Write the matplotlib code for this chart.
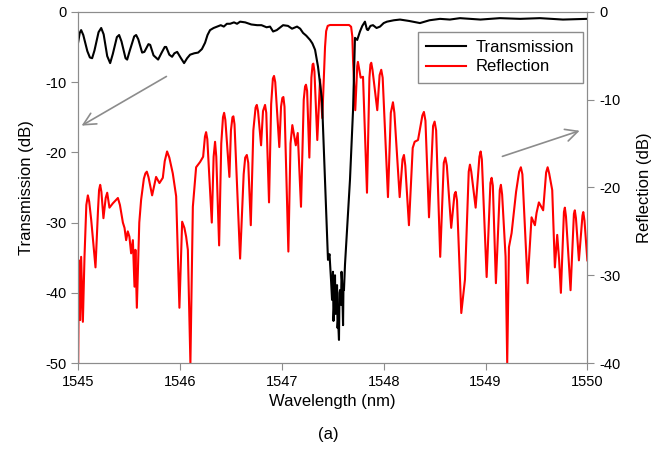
import matplotlib
matplotlib.use("Agg")
import matplotlib.pyplot as plt

plt.rcParams["font.family"] = ["Liberation Sans", "DejaVu Sans"]
plt.rcParams["axes.unicode_minus"] = False

# transmission spectrum (left axis, dB)
wl_trans = [1545.000, 1545.015, 1545.029, 1545.050, 1545.090, 1545.115, 1545.137, 1545.160,
            1545.200, 1545.226, 1545.250, 1545.285, 1545.314, 1545.340, 1545.380, 1545.402,
            1545.425, 1545.465, 1545.481, 1545.505, 1545.550, 1545.569, 1545.590, 1545.628,
            1545.650, 1545.690, 1545.707, 1545.740, 1545.785, 1545.820, 1545.850, 1545.864,
            1545.895, 1545.922, 1545.945, 1545.972, 1546.005, 1546.040, 1546.070, 1546.099,
            1546.140, 1546.178, 1546.215, 1546.246, 1546.270, 1546.295, 1546.330, 1546.364,
            1546.400, 1546.430, 1546.460, 1546.492, 1546.530, 1546.560, 1546.590, 1546.640,
            1546.700, 1546.757, 1546.800, 1546.850, 1546.884, 1546.914, 1546.950, 1547.012,
            1547.060, 1547.100, 1547.149, 1547.180, 1547.208, 1547.240, 1547.277, 1547.300,
            1547.326, 1547.355, 1547.394, 1547.424, 1547.453, 1547.468, 1547.483, 1547.493,
            1547.502, 1547.507, 1547.512, 1547.522, 1547.527, 1547.532, 1547.542, 1547.547,
            1547.552, 1547.561, 1547.566, 1547.571, 1547.581, 1547.586, 1547.591, 1547.601,
            1547.605, 1547.610, 1547.620, 1547.640, 1547.669, 1547.699, 1547.718, 1547.740,
            1547.767, 1547.790, 1547.816, 1547.835, 1547.846, 1547.870, 1547.895, 1547.930,
            1547.964, 1548.000, 1548.032, 1548.100, 1548.160, 1548.250, 1548.356, 1548.450,
            1548.553, 1548.650, 1548.749, 1548.950, 1549.141, 1549.340, 1549.534, 1549.760,
            1549.995]
trans = [-4.3, -3.0, -2.6, -3.3, -5.6, -6.5, -6.6, -5.5,
         -2.9, -2.3, -3.2, -6.3, -7.3, -6.0, -3.6, -3.3,
         -4.2, -6.6, -6.8, -5.6, -3.5, -3.3, -3.9, -5.8,
         -5.7, -4.6, -4.7, -6.2, -6.8, -5.8, -5.0, -5.0,
         -6.1, -6.4, -5.9, -5.7, -6.5, -7.3, -6.6, -6.1,
         -5.9, -5.8, -5.3, -4.4, -3.3, -2.6, -2.3, -2.1,
         -1.9, -2.1, -1.7, -1.7, -1.5, -1.7, -1.4, -1.5,
         -1.8, -1.9, -1.9, -2.2, -2.1, -2.8, -2.6, -1.9,
         -2.0, -2.4, -2.1, -2.4, -3.0, -3.4, -4.0, -4.5,
         -5.4, -7.8, -12.5, -23.9, -35.3, -34.5, -38.2, -41.0,
         -37.0, -44.0, -42.4, -37.5, -43.0, -41.0, -38.9, -45.0,
         -43.9, -46.7, -40.0, -39.6, -41.7, -37.0, -38.2, -44.6,
         -39.0, -39.6, -36.0, -31.1, -23.9, -14.0, -3.7, -4.0,
         -2.8, -2.0, -1.4, -2.5, -2.6, -2.0, -1.9, -2.3,
         -2.1, -1.6, -1.4, -1.2, -1.1, -1.3, -1.6, -1.2,
         -1.0, -1.1, -0.9, -1.1, -0.9, -1.0, -0.9, -1.1,
         -1.0]

# reflection spectrum (right axis, dB)
wl_refl = [1545.000, 1545.007, 1545.020, 1545.029, 1545.046, 1545.062, 1545.080, 1545.095,
           1545.108, 1545.128, 1545.170, 1545.195, 1545.205, 1545.216, 1545.228, 1545.248,
           1545.270, 1545.285, 1545.307, 1545.341, 1545.390, 1545.410, 1545.439, 1545.455,
           1545.471, 1545.487, 1545.503, 1545.520, 1545.537, 1545.553, 1545.562, 1545.576,
           1545.600, 1545.618, 1545.645, 1545.660, 1545.674, 1545.690, 1545.726, 1545.765,
           1545.798, 1545.831, 1545.850, 1545.873, 1545.895, 1545.929, 1545.962, 1545.994,
           1546.021, 1546.043, 1546.060, 1546.077, 1546.102, 1546.126, 1546.158, 1546.197,
           1546.227, 1546.245, 1546.256, 1546.268, 1546.312, 1546.330, 1546.344, 1546.356,
           1546.384, 1546.405, 1546.422, 1546.433, 1546.445, 1546.485, 1546.500, 1546.515,
           1546.524, 1546.535, 1546.590, 1546.625, 1546.640, 1546.656, 1546.670, 1546.695,
           1546.720, 1546.742, 1546.754, 1546.766, 1546.796, 1546.815, 1546.835, 1546.847,
           1546.874, 1546.895, 1546.912, 1546.923, 1546.935, 1546.975, 1546.992, 1547.005,
           1547.015, 1547.026, 1547.064, 1547.085, 1547.103, 1547.137, 1547.156, 1547.188,
           1547.215, 1547.228, 1547.237, 1547.248, 1547.270, 1547.290, 1547.302, 1547.309,
           1547.320, 1547.348, 1547.375, 1547.397, 1547.415, 1547.424, 1547.435, 1547.450,
           1547.473, 1547.571, 1547.660, 1547.680, 1547.692, 1547.699, 1547.721, 1547.740,
           1547.747, 1547.774, 1547.797, 1547.836, 1547.860, 1547.870, 1547.878, 1547.890,
           1547.937, 1547.960, 1547.976, 1547.990, 1548.042, 1548.070, 1548.091, 1548.105,
           1548.157, 1548.185, 1548.199, 1548.212, 1548.248, 1548.285, 1548.304, 1548.337,
           1548.380, 1548.395, 1548.410, 1548.445, 1548.485, 1548.500, 1548.515, 1548.555,
           1548.590, 1548.605, 1548.620, 1548.663, 1548.695, 1548.707, 1548.720, 1548.762,
           1548.798, 1548.835, 1548.847, 1548.860, 1548.903, 1548.940, 1548.952, 1548.964,
           1549.011, 1549.048, 1549.060, 1549.072, 1549.102, 1549.140, 1549.151, 1549.163,
           1549.197, 1549.213, 1549.230, 1549.256, 1549.300, 1549.330, 1549.347, 1549.362,
           1549.413, 1549.452, 1549.485, 1549.501, 1549.524, 1549.566, 1549.595, 1549.610,
           1549.625, 1549.655, 1549.681, 1549.704, 1549.723, 1549.740, 1549.770, 1549.779,
           1549.790, 1549.835, 1549.868, 1549.877, 1549.888, 1549.917, 1549.952, 1549.960,
           1549.972, 1550.000]
refl = [-40.0, -28.3, -35.1, -27.9, -35.3, -27.9, -22.0, -20.9,
        -21.6, -23.7, -29.1, -22.5, -20.3, -19.7, -20.5, -23.5,
        -21.2, -20.6, -22.3, -21.8, -21.2, -22.0, -24.0, -24.6,
        -26.0, -25.0, -25.6, -27.5, -26.0, -31.3, -27.1, -33.7,
        -24.0, -21.4, -19.0, -18.4, -18.2, -18.8, -20.9, -18.8,
        -19.5, -18.9, -17.0, -15.9, -16.6, -18.4, -21.0, -33.7,
        -23.9, -24.6, -25.6, -27.1, -40.0, -22.2, -17.7, -17.1,
        -16.5, -14.2, -13.7, -14.5, -24.0, -16.5, -14.8, -16.5,
        -26.6, -15.0, -12.0, -11.5, -12.3, -18.8, -13.5, -12.0,
        -11.9, -12.8, -28.1, -18.5, -16.6, -16.3, -17.2, -24.3,
        -13.5, -10.9, -10.6, -11.3, -15.2, -11.3, -10.6, -11.5,
        -21.7, -10.5, -7.6, -7.3, -8.0, -15.4, -10.8, -9.8,
        -9.7, -10.8, -27.3, -15.0, -12.9, -15.2, -13.8, -22.2,
        -10.0, -8.5, -8.3, -9.0, -16.6, -7.5, -6.0, -5.9,
        -6.8, -14.6, -7.7, -12.1, -6.5, -4.0, -2.2, -1.6,
        -1.5, -1.5, -1.5, -1.7, -2.8, -5.5, -11.2, -6.2,
        -5.7, -7.5, -7.4, -20.6, -7.5, -6.0, -5.8, -6.6,
        -11.2, -7.2, -6.6, -7.5, -21.1, -11.5, -10.3, -11.5,
        -21.1, -16.8, -16.3, -17.5, -24.3, -15.5, -14.8, -14.6,
        -11.8, -11.4, -12.4, -23.4, -13.0, -12.5, -13.5, -27.9,
        -17.2, -16.6, -17.5, -24.6, -20.8, -20.5, -21.5, -34.3,
        -30.5, -18.2, -17.4, -18.2, -22.3, -16.5, -15.9, -16.8,
        -30.2, -19.5, -18.9, -19.8, -30.9, -20.3, -19.7, -20.8,
        -27.9, -40.0, -26.8, -25.2, -20.5, -18.2, -17.7, -18.5,
        -30.9, -23.4, -24.3, -22.9, -21.7, -22.6, -18.3, -17.7,
        -18.4, -20.3, -29.1, -25.4, -28.3, -32.0, -22.8, -22.3,
        -23.3, -31.7, -23.0, -22.6, -23.5, -28.3, -23.2, -22.8,
        -23.8, -28.3]

GRAY = "#8c8c8c"

fig = plt.figure(figsize=(6.57, 4.55), dpi=100)
ax = fig.add_axes([0.119, 0.202, 0.775, 0.772])
ax2 = ax.twinx()

ax2.plot(wl_refl, refl, color="#ff0000", lw=1.5)
ln_t, = ax.plot(wl_trans, trans, color="black", lw=1.5)
ax.set_zorder(ax2.get_zorder() + 1)
ax.patch.set_visible(False)

ax.set_xlim(1545, 1550)
ax.set_ylim(-50, 0)
ax2.set_ylim(-40, 0)
ax.set_xticks([1545, 1546, 1547, 1548, 1549, 1550])
ax.set_yticks([0, -10, -20, -30, -40, -50])
ax2.set_yticks([0, -10, -20, -30, -40])
ax.set_xlabel("Wavelength (nm)", fontsize=12)
ax.set_ylabel("Transmission (dB)", fontsize=12, labelpad=8)
ax2.set_ylabel("Reflection (dB)", fontsize=12, labelpad=12)

for a in (ax, ax2):
    for s in a.spines.values():
        s.set_color(GRAY)
    a.tick_params(direction="out", length=5, color=GRAY, labelsize=10.5)

# arrows pointing to the relevant axis
ax.annotate("", xy=(1545.01, -16.4), xytext=(1545.89, -9.0),
            arrowprops=dict(arrowstyle="->", color=GRAY, lw=1.2, mutation_scale=22))
ax.annotate("", xy=(1549.95, -16.8), xytext=(1549.14, -20.7),
            arrowprops=dict(arrowstyle="->", color=GRAY, lw=1.2, mutation_scale=22))

ln_r = plt.Line2D([], [], color="#ff0000", lw=1.5)
leg = ax.legend([ln_t, ln_r], ["Transmission", "Reflection"], loc="upper right",
                bbox_to_anchor=(0.991, 0.943), borderaxespad=0, fontsize=12,
                fancybox=False, framealpha=1, edgecolor=GRAY, handlelength=2.4,
                handletextpad=0.6, borderpad=0.5, labelspacing=0.25)
leg.get_frame().set_linewidth(1.0)

fig.text(0.50, 0.045, "(a)", ha="center", va="center", fontsize=12)

fig.savefig("out.png", dpi=100, facecolor="white")
